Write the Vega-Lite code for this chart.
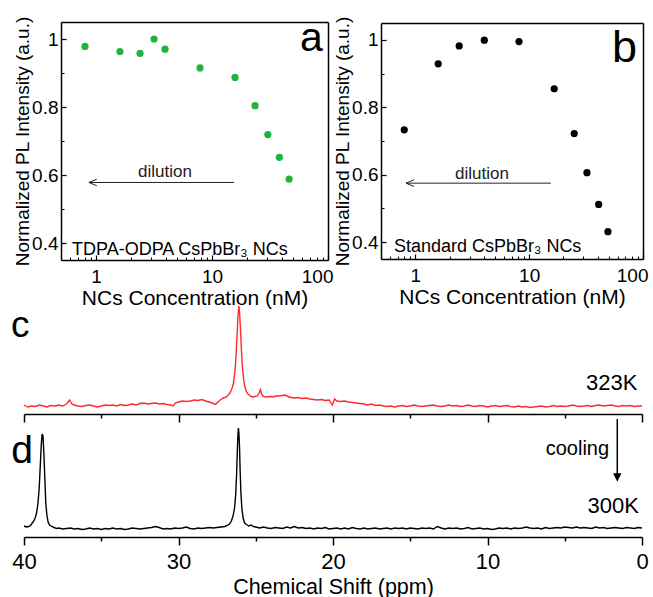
{
"$schema": "https://vega.github.io/schema/vega-lite/v6.json",
"width": 653, "height": 597, "autosize": {"type": "none"}, "padding": 0, "background": "white",
"datasets": {
"ptsA": [{"c":0.805,"v":0.978},{"c":1.61,"v":0.963},{"c":2.40,"v":0.958},{"c":3.17,"v":1.0},{"c":3.94,"v":0.970},{"c":7.89,"v":0.915},{"c":15.8,"v":0.887},{"c":23.5,"v":0.804},{"c":30.3,"v":0.719},{"c":38.1,"v":0.652},{"c":46.2,"v":0.588}],
"ptsB": [{"c":0.80,"v":0.733},{"c":1.59,"v":0.929},{"c":2.43,"v":0.982},{"c":4.04,"v":0.999},{"c":8.15,"v":0.995},{"c":16.6,"v":0.855},{"c":24.9,"v":0.722},{"c":32.2,"v":0.606},{"c":40.8,"v":0.512},{"c":49.2,"v":0.431}],
"arr": [{"p":"a","x1":15.5,"x2":0.87,"y":0.578},{"p":"b","x1":15.5,"x2":0.83,"y":0.575}],
"txt": [
{"id":"la","x":57.4,"y":0.964,"t":"a"},
{"id":"lb","x":53.3,"y":0.933,"t":"b"},
{"id":"sa","x":0.622,"y":0.366,"t":"TDPA-ODPA CsPbBr₃ NCs"},
{"id":"sb","x":0.65,"y":0.372,"t":"Standard CsPbBr₃ NCs"},
{"id":"da","x":3.94,"y":0.595,"t":"dilution"},
{"id":"db","x":3.85,"y":0.587,"t":"dilution"},
{"id":"lc","x":40.84,"y":77,"t":"c"},
{"id":"ld","x":40.82,"y":73.7,"t":"d"},
{"id":"kc","x":0.3,"y":24,"t":"323K"},
{"id":"kd","x":0.2,"y":23.7,"t":"300K"},
{"id":"co","x":2.13,"y":82,"t":"cooling"}],
"cool": [{"x":1.6,"y1":118,"y2":59.5}],
"specC": [
{"p":40,"v":9},{"p":39.75,"v":7},{"p":39.5,"v":8},{"p":39.25,"v":7.5},{"p":39,"v":9},{"p":38.75,"v":8},{"p":38.5,"v":7},{"p":38.25,"v":8.5},{"p":38,"v":8},{"p":37.75,"v":9},{"p":37.5,"v":8},{"p":37.25,"v":10},{"p":37.05,"v":14},{"p":36.9,"v":10},{"p":36.75,"v":9},{"p":36.5,"v":8},{"p":36.25,"v":7.5},{"p":36,"v":8.5},{"p":35.75,"v":9},{"p":35.5,"v":8},{"p":35.25,"v":7},{"p":35,"v":8},{"p":34.75,"v":9},{"p":34.5,"v":8.5},{"p":34.25,"v":9},{"p":34,"v":8},{"p":33.75,"v":9.5},{"p":33.5,"v":8.5},{"p":33.25,"v":9},{"p":33,"v":10},{"p":32.75,"v":9},{"p":32.5,"v":10.5},{"p":32.25,"v":11},{"p":32,"v":10},{"p":31.75,"v":10.5},{"p":31.5,"v":11},{"p":31.25,"v":10},{"p":31,"v":10.5},{"p":30.75,"v":9.5},{"p":30.5,"v":9},{"p":30.35,"v":8},{"p":30.2,"v":11},{"p":30,"v":12},{"p":29.75,"v":13},{"p":29.5,"v":12.5},{"p":29.25,"v":13},{"p":29,"v":14},{"p":28.75,"v":13.5},{"p":28.5,"v":14.5},{"p":28.25,"v":13},{"p":28,"v":12},{"p":27.75,"v":10.5},{"p":27.6,"v":9.5},{"p":27.45,"v":12},{"p":27.3,"v":14},{"p":27.1,"v":16},{"p":26.9,"v":17},{"p":26.7,"v":20.5},{"p":26.55,"v":25},{"p":26.45,"v":30},{"p":26.35,"v":42},{"p":26.28,"v":57},{"p":26.2,"v":82},{"p":26.14,"v":100},{"p":26.09,"v":108},{"p":26.04,"v":100},{"p":25.98,"v":82},{"p":25.92,"v":62},{"p":25.86,"v":46},{"p":25.78,"v":34},{"p":25.7,"v":27},{"p":25.6,"v":22},{"p":25.5,"v":20},{"p":25.35,"v":18},{"p":25.2,"v":17},{"p":25.05,"v":17.5},{"p":24.9,"v":18},{"p":24.78,"v":21},{"p":24.7,"v":24.5},{"p":24.62,"v":20},{"p":24.5,"v":17.5},{"p":24.3,"v":17},{"p":24.1,"v":17.5},{"p":23.9,"v":17},{"p":23.7,"v":18},{"p":23.5,"v":18},{"p":23.3,"v":18.5},{"p":23.1,"v":19},{"p":22.9,"v":17.5},{"p":22.7,"v":16.5},{"p":22.5,"v":16},{"p":22.25,"v":16.5},{"p":22,"v":15.5},{"p":21.75,"v":16},{"p":21.5,"v":15},{"p":21.25,"v":14.5},{"p":21,"v":14},{"p":20.75,"v":14.5},{"p":20.5,"v":13.5},{"p":20.25,"v":14},{"p":20.05,"v":9},{"p":19.9,"v":15},{"p":19.75,"v":13},{"p":19.5,"v":12.5},{"p":19.25,"v":13},{"p":19,"v":12},{"p":18.75,"v":11.5},{"p":18.5,"v":11},{"p":18.25,"v":10.5},{"p":18,"v":10},{"p":17.75,"v":9},{"p":17.5,"v":10},{"p":17.25,"v":8.5},{"p":17,"v":9},{"p":16.75,"v":8},{"p":16.5,"v":7.5},{"p":16.25,"v":8},{"p":16,"v":7},{"p":15.75,"v":8},{"p":15.5,"v":8.5},{"p":15.25,"v":7.5},{"p":15,"v":8},{"p":14.75,"v":9},{"p":14.5,"v":8},{"p":14.25,"v":7.5},{"p":14,"v":8},{"p":13.75,"v":8.5},{"p":13.5,"v":9},{"p":13.25,"v":8},{"p":13,"v":7.5},{"p":12.75,"v":8},{"p":12.5,"v":9},{"p":12.25,"v":8},{"p":12,"v":8.5},{"p":11.75,"v":7.5},{"p":11.5,"v":8},{"p":11.25,"v":9},{"p":11,"v":8},{"p":10.75,"v":7.5},{"p":10.5,"v":8.5},{"p":10.25,"v":8},{"p":10,"v":7},{"p":9.75,"v":8},{"p":9.5,"v":8.5},{"p":9.25,"v":7.5},{"p":9,"v":8},{"p":8.75,"v":8.5},{"p":8.5,"v":7.5},{"p":8.25,"v":7},{"p":8,"v":8},{"p":7.75,"v":7},{"p":7.5,"v":7.5},{"p":7.25,"v":6.5},{"p":7,"v":7},{"p":6.75,"v":7.5},{"p":6.5,"v":8},{"p":6.25,"v":7},{"p":6,"v":7.5},{"p":5.75,"v":8.5},{"p":5.5,"v":7.5},{"p":5.25,"v":8},{"p":5,"v":7.5},{"p":4.75,"v":8},{"p":4.5,"v":9},{"p":4.25,"v":8},{"p":4,"v":7.5},{"p":3.75,"v":8},{"p":3.5,"v":8.5},{"p":3.25,"v":7.5},{"p":3,"v":8.5},{"p":2.75,"v":9},{"p":2.5,"v":8},{"p":2.25,"v":8.5},{"p":2,"v":9},{"p":1.75,"v":8},{"p":1.5,"v":7.5},{"p":1.25,"v":8.5},{"p":1,"v":8},{"p":0.75,"v":8.5},{"p":0.5,"v":7.5},{"p":0.25,"v":8},{"p":0,"v":8}],
"specD": [
{"p":40,"v":11},{"p":39.85,"v":10},{"p":39.7,"v":10.5},{"p":39.55,"v":12},{"p":39.42,"v":15},{"p":39.3,"v":18},{"p":39.2,"v":23},{"p":39.1,"v":33},{"p":39.02,"v":48},{"p":38.95,"v":70},{"p":38.89,"v":90},{"p":38.83,"v":103},{"p":38.77,"v":101},{"p":38.71,"v":82},{"p":38.65,"v":58},{"p":38.59,"v":34},{"p":38.52,"v":22},{"p":38.44,"v":15},{"p":38.35,"v":12},{"p":38.2,"v":10.5},{"p":38.05,"v":9.5},{"p":37.9,"v":8.5},{"p":37.75,"v":9},{"p":37.5,"v":8},{"p":37.25,"v":8.5},{"p":37,"v":9},{"p":36.75,"v":8},{"p":36.5,"v":8.5},{"p":36.25,"v":7.5},{"p":36,"v":8},{"p":35.75,"v":9},{"p":35.5,"v":8},{"p":35.25,"v":8.5},{"p":35,"v":7.5},{"p":34.75,"v":8.5},{"p":34.5,"v":8},{"p":34.25,"v":9},{"p":34,"v":8},{"p":33.75,"v":8.5},{"p":33.5,"v":7.5},{"p":33.25,"v":8},{"p":33,"v":9},{"p":32.75,"v":8.5},{"p":32.5,"v":8},{"p":32.25,"v":8.5},{"p":32,"v":9},{"p":31.75,"v":9.5},{"p":31.5,"v":10.5},{"p":31.25,"v":9.5},{"p":31,"v":8},{"p":30.75,"v":8.5},{"p":30.5,"v":8},{"p":30.25,"v":9},{"p":30,"v":8.5},{"p":29.75,"v":9},{"p":29.5,"v":10},{"p":29.25,"v":8.5},{"p":29,"v":8},{"p":28.75,"v":9},{"p":28.5,"v":8.5},{"p":28.25,"v":9},{"p":28,"v":9.5},{"p":27.75,"v":9},{"p":27.5,"v":9.5},{"p":27.25,"v":10},{"p":27,"v":10.5},{"p":26.85,"v":11.5},{"p":26.7,"v":13},{"p":26.58,"v":16},{"p":26.47,"v":21},{"p":26.38,"v":28},{"p":26.3,"v":42},{"p":26.24,"v":62},{"p":26.19,"v":88},{"p":26.15,"v":103},{"p":26.12,"v":109},{"p":26.09,"v":104},{"p":26.05,"v":90},{"p":26.01,"v":66},{"p":25.96,"v":44},{"p":25.9,"v":29},{"p":25.82,"v":19},{"p":25.72,"v":14},{"p":25.6,"v":12.5},{"p":25.45,"v":11},{"p":25.3,"v":12},{"p":25.15,"v":10.5},{"p":25,"v":10},{"p":24.75,"v":9},{"p":24.5,"v":10},{"p":24.25,"v":9},{"p":24,"v":8.5},{"p":23.75,"v":9.5},{"p":23.5,"v":9},{"p":23.25,"v":8.5},{"p":23,"v":10},{"p":22.75,"v":9},{"p":22.5,"v":10.5},{"p":22.25,"v":9},{"p":22,"v":9.5},{"p":21.75,"v":8.5},{"p":21.5,"v":9},{"p":21.25,"v":8},{"p":21,"v":9},{"p":20.75,"v":8.5},{"p":20.5,"v":9.5},{"p":20.25,"v":8},{"p":20,"v":8.5},{"p":19.75,"v":9},{"p":19.5,"v":8},{"p":19.25,"v":9},{"p":19,"v":8},{"p":18.75,"v":9.5},{"p":18.5,"v":8.5},{"p":18.25,"v":8},{"p":18,"v":9},{"p":17.75,"v":8},{"p":17.5,"v":8.5},{"p":17.25,"v":9},{"p":17,"v":8},{"p":16.75,"v":8.5},{"p":16.5,"v":9},{"p":16.25,"v":8},{"p":16,"v":9},{"p":15.75,"v":8.5},{"p":15.5,"v":9},{"p":15.25,"v":8},{"p":15,"v":9},{"p":14.75,"v":8.5},{"p":14.5,"v":8},{"p":14.25,"v":9},{"p":14,"v":8.5},{"p":13.75,"v":9},{"p":13.5,"v":8},{"p":13.25,"v":10.5},{"p":13,"v":9},{"p":12.75,"v":8},{"p":12.5,"v":9},{"p":12.25,"v":8.5},{"p":12,"v":9},{"p":11.75,"v":8},{"p":11.5,"v":8.5},{"p":11.25,"v":9.5},{"p":11,"v":8},{"p":10.75,"v":8.5},{"p":10.5,"v":9},{"p":10.25,"v":8},{"p":10,"v":8.5},{"p":9.75,"v":7.5},{"p":9.5,"v":8},{"p":9.25,"v":9},{"p":9,"v":8.5},{"p":8.75,"v":9},{"p":8.5,"v":8},{"p":8.25,"v":9},{"p":8,"v":8.5},{"p":7.75,"v":9},{"p":7.5,"v":10},{"p":7.25,"v":9},{"p":7,"v":8.5},{"p":6.75,"v":9},{"p":6.5,"v":8},{"p":6.25,"v":9.5},{"p":6,"v":8.5},{"p":5.75,"v":9},{"p":5.5,"v":9.5},{"p":5.25,"v":9},{"p":5,"v":10},{"p":4.75,"v":9.5},{"p":4.5,"v":9},{"p":4.25,"v":10},{"p":4,"v":9},{"p":3.75,"v":9.5},{"p":3.5,"v":9},{"p":3.25,"v":8.5},{"p":3,"v":10},{"p":2.75,"v":9},{"p":2.5,"v":9.5},{"p":2.25,"v":8.5},{"p":2,"v":9},{"p":1.75,"v":9.5},{"p":1.5,"v":9},{"p":1.25,"v":8.5},{"p":1,"v":9.5},{"p":0.75,"v":9},{"p":0.5,"v":8.5},{"p":0.25,"v":9.5},{"p":0,"v":9}]
},
"layer": [
{"data":{"name":"ptsA"},"mark":{"type":"circle","size":52,"color":"#21b33b","opacity":1},
 "encoding":{
 "x":{"field":"c","type":"quantitative","scale":{"type":"log","domain":[0.5,100],"range":[61,328],"nice":false},
  "axis":{"orient":"bottom","offset":-337,"values":[1,10,100],"format":"~g","tickSize":-5,"tickWidth":1.2,"domainWidth":1.5,"labelFontSize":19,"labelPadding":12,"labelFlush":true,"labelFlushOffset":5,"title":"NCs Concentration (nM)","titleFontSize":21,"titlePadding":1}},
 "y":{"field":"v","type":"quantitative","scale":{"domain":[0.35,1.05],"range":[260,22],"nice":false,"zero":false},
  "axis":{"orient":"left","offset":-61,"values":[0.4,0.6,0.8,1],"format":"~g","tickSize":-5,"tickWidth":1.2,"domainWidth":1.5,"labelFontSize":19,"labelPadding":8,"title":"Normalized PL Intensity (a.u.)","titleFontSize":19,"titlePadding":-1}}}},
{"data":{"name":"arr"},"transform":[{"filter":"datum.p == 'a'"}],"mark":{"type":"rule","color":"#222","strokeWidth":1},
 "encoding":{
 "x":{"field":"x1","type":"quantitative","scale":{"type":"log","domain":[0.5,100],"range":[61,328],"nice":false},
  "axis":{"orient":"bottom","offset":-337,"values":[0.6,0.7,0.8,0.9,2,3,4,5,6,7,8,9,20,30,40,50,60,70,80,90],"tickSize":-3,"tickWidth":1,"domain":false,"labels":false,"title":null}},
 "x2":{"field":"x2"},
 "y":{"field":"y","type":"quantitative","scale":{"domain":[0.35,1.05],"range":[260,22],"nice":false,"zero":false},
  "axis":{"orient":"left","offset":-61,"values":[0.5,0.7,0.9],"tickSize":-3,"tickWidth":1,"domain":false,"labels":false,"title":null}}}},
{"data":{"name":"arr"},"transform":[{"filter":"datum.p == 'a'"}],"mark":{"type":"point","shape":"M2.4,-1L0,0L2.4,1","size":44,"filled":false,"color":"#222","strokeWidth":1,"opacity":1},
 "encoding":{
 "x":{"field":"x2","type":"quantitative","scale":{"type":"log","domain":[0.5,100],"range":[61,328],"nice":false},
  "axis":{"orient":"top","offset":-22,"ticks":false,"labels":false,"domainWidth":1.5,"title":null}},
 "y":{"field":"y","type":"quantitative","scale":{"domain":[0.35,1.05],"range":[260,22],"nice":false,"zero":false},
  "axis":{"orient":"right","offset":-325,"ticks":false,"labels":false,"domainWidth":1.5,"title":null}}}},
{"data":{"name":"txt"},"transform":[{"filter":"datum.id == 'la'"}],"mark":{"type":"text","fontSize":41,"align":"left","baseline":"alphabetic","color":"#000"},
 "encoding":{"text":{"field":"t"},
 "x":{"field":"x","type":"quantitative","scale":{"type":"log","domain":[0.5,100],"range":[61,328],"nice":false},"axis":null},
 "y":{"field":"y","type":"quantitative","scale":{"domain":[0.35,1.05],"range":[260,22],"nice":false,"zero":false},"axis":null}}},
{"data":{"name":"txt"},"transform":[{"filter":"datum.id == 'sa'"}],"mark":{"type":"text","fontSize":18,"align":"left","baseline":"alphabetic","color":"#000"},
 "encoding":{"text":{"field":"t"},
 "x":{"field":"x","type":"quantitative","scale":{"type":"log","domain":[0.5,100],"range":[61,328],"nice":false},"axis":null},
 "y":{"field":"y","type":"quantitative","scale":{"domain":[0.35,1.05],"range":[260,22],"nice":false,"zero":false},"axis":null}}},
{"data":{"name":"txt"},"transform":[{"filter":"datum.id == 'da'"}],"mark":{"type":"text","fontSize":17,"align":"center","baseline":"alphabetic","color":"#222"},
 "encoding":{"text":{"field":"t"},
 "x":{"field":"x","type":"quantitative","scale":{"type":"log","domain":[0.5,100],"range":[61,328],"nice":false},"axis":null},
 "y":{"field":"y","type":"quantitative","scale":{"domain":[0.35,1.05],"range":[260,22],"nice":false,"zero":false},"axis":null}}},

{"data":{"name":"ptsB"},"mark":{"type":"circle","size":52,"color":"#000","opacity":1},
 "encoding":{
 "x":{"field":"c","type":"quantitative","scale":{"type":"log","domain":[0.5,100],"range":[381,643],"nice":false},
  "axis":{"orient":"bottom","offset":-338,"values":[1,10,100],"format":"~g","tickSize":-5,"tickWidth":1.2,"domainWidth":1.5,"labelFontSize":19,"labelPadding":12,"labelFlush":true,"labelFlushOffset":5,"title":"NCs Concentration (nM)","titleFontSize":21,"titlePadding":1}},
 "y":{"field":"v","type":"quantitative","scale":{"domain":[0.35,1.05],"range":[259,23],"nice":false,"zero":false},
  "axis":{"orient":"left","offset":-381,"values":[0.4,0.6,0.8,1],"format":"~g","tickSize":-5,"tickWidth":1.2,"domainWidth":1.5,"labelFontSize":19,"labelPadding":8,"title":"Normalized PL Intensity (a.u.)","titleFontSize":19,"titlePadding":-1}}}},
{"data":{"name":"arr"},"transform":[{"filter":"datum.p == 'b'"}],"mark":{"type":"rule","color":"#222","strokeWidth":1},
 "encoding":{
 "x":{"field":"x1","type":"quantitative","scale":{"type":"log","domain":[0.5,100],"range":[381,643],"nice":false},
  "axis":{"orient":"bottom","offset":-338,"values":[0.6,0.7,0.8,0.9,2,3,4,5,6,7,8,9,20,30,40,50,60,70,80,90],"tickSize":-3,"tickWidth":1,"domain":false,"labels":false,"title":null}},
 "x2":{"field":"x2"},
 "y":{"field":"y","type":"quantitative","scale":{"domain":[0.35,1.05],"range":[259,23],"nice":false,"zero":false},
  "axis":{"orient":"left","offset":-381,"values":[0.5,0.7,0.9],"tickSize":-3,"tickWidth":1,"domain":false,"labels":false,"title":null}}}},
{"data":{"name":"arr"},"transform":[{"filter":"datum.p == 'b'"}],"mark":{"type":"point","shape":"M2.4,-1L0,0L2.4,1","size":44,"filled":false,"color":"#222","strokeWidth":1,"opacity":1},
 "encoding":{
 "x":{"field":"x2","type":"quantitative","scale":{"type":"log","domain":[0.5,100],"range":[381,643],"nice":false},
  "axis":{"orient":"top","offset":-23,"ticks":false,"labels":false,"domainWidth":1.5,"title":null}},
 "y":{"field":"y","type":"quantitative","scale":{"domain":[0.35,1.05],"range":[259,23],"nice":false,"zero":false},
  "axis":{"orient":"right","offset":-10,"ticks":false,"labels":false,"domainWidth":1.5,"title":null}}}},
{"data":{"name":"txt"},"transform":[{"filter":"datum.id == 'lb'"}],"mark":{"type":"text","fontSize":45,"align":"left","baseline":"alphabetic","color":"#000"},
 "encoding":{"text":{"field":"t"},
 "x":{"field":"x","type":"quantitative","scale":{"type":"log","domain":[0.5,100],"range":[381,643],"nice":false},"axis":null},
 "y":{"field":"y","type":"quantitative","scale":{"domain":[0.35,1.05],"range":[259,23],"nice":false,"zero":false},"axis":null}}},
{"data":{"name":"txt"},"transform":[{"filter":"datum.id == 'sb'"}],"mark":{"type":"text","fontSize":18,"align":"left","baseline":"alphabetic","color":"#000"},
 "encoding":{"text":{"field":"t"},
 "x":{"field":"x","type":"quantitative","scale":{"type":"log","domain":[0.5,100],"range":[381,643],"nice":false},"axis":null},
 "y":{"field":"y","type":"quantitative","scale":{"domain":[0.35,1.05],"range":[259,23],"nice":false,"zero":false},"axis":null}}},
{"data":{"name":"txt"},"transform":[{"filter":"datum.id == 'db'"}],"mark":{"type":"text","fontSize":17,"align":"center","baseline":"alphabetic","color":"#222"},
 "encoding":{"text":{"field":"t"},
 "x":{"field":"x","type":"quantitative","scale":{"type":"log","domain":[0.5,100],"range":[381,643],"nice":false},"axis":null},
 "y":{"field":"y","type":"quantitative","scale":{"domain":[0.35,1.05],"range":[259,23],"nice":false,"zero":false},"axis":null}}},

{"data":{"name":"specC"},"mark":{"type":"line","color":"#ff2a2a","strokeWidth":1.4},
 "encoding":{
 "x":{"field":"p","type":"quantitative","scale":{"domain":[0,40],"range":[642,24],"nice":false,"zero":false},
  "axis":{"orient":"bottom","offset":-183,"values":[40,30,20,10,0],"tickSize":8,"tickWidth":1.5,"domainWidth":1.5,"labels":false,"title":null}},
 "y":{"field":"v","type":"quantitative","scale":{"domain":[0,114],"range":[414,300],"nice":false},"axis":null}}},
{"data":{"name":"txt"},"transform":[{"filter":"datum.id == 'kc'"}],"mark":{"type":"text","fontSize":22,"align":"right","baseline":"alphabetic","color":"#000"},
 "encoding":{"text":{"field":"t"},
 "x":{"field":"x","type":"quantitative","scale":{"domain":[0,40],"range":[642,24],"nice":false,"zero":false},
  "axis":{"orient":"bottom","offset":-183,"values":[35,25,15,5],"tickSize":4,"tickWidth":1.5,"domain":false,"labels":false,"title":null}},
 "y":{"field":"y","type":"quantitative","scale":{"domain":[0,114],"range":[414,300],"nice":false},"axis":null}}},
{"data":{"name":"txt"},"transform":[{"filter":"datum.id == 'lc'"}],"mark":{"type":"text","fontSize":37,"align":"left","baseline":"alphabetic","color":"#000"},
 "encoding":{"text":{"field":"t"},
 "x":{"field":"x","type":"quantitative","scale":{"domain":[0,40],"range":[642,24],"nice":false,"zero":false},"axis":null},
 "y":{"field":"y","type":"quantitative","scale":{"domain":[0,114],"range":[414,300],"nice":false},"axis":null}}},

{"data":{"name":"specD"},"mark":{"type":"line","color":"#000","strokeWidth":1.4},
 "encoding":{
 "x":{"field":"p","type":"quantitative","scale":{"domain":[0,40],"range":[642,24],"nice":false,"zero":false},
  "axis":{"orient":"bottom","offset":-60,"values":[40,30,20,10,0],"tickSize":8,"tickWidth":1.5,"domainWidth":1.5,"labelFontSize":22,"labelPadding":6,"labelFlush":false,"title":"Chemical Shift (ppm)","titleFontSize":21.5,"titlePadding":4}},
 "y":{"field":"v","type":"quantitative","scale":{"domain":[0,114],"range":[537,423],"nice":false},"axis":null}}},
{"data":{"name":"txt"},"transform":[{"filter":"datum.id == 'kd'"}],"mark":{"type":"text","fontSize":22,"align":"right","baseline":"alphabetic","color":"#000"},
 "encoding":{"text":{"field":"t"},
 "x":{"field":"x","type":"quantitative","scale":{"domain":[0,40],"range":[642,24],"nice":false,"zero":false},
  "axis":{"orient":"bottom","offset":-60,"values":[35,25,15,5],"tickSize":4,"tickWidth":1.5,"domain":false,"labels":false,"title":null}},
 "y":{"field":"y","type":"quantitative","scale":{"domain":[0,114],"range":[537,423],"nice":false},"axis":null}}},
{"data":{"name":"txt"},"transform":[{"filter":"datum.id == 'ld'"}],"mark":{"type":"text","fontSize":39,"align":"left","baseline":"alphabetic","color":"#000"},
 "encoding":{"text":{"field":"t"},
 "x":{"field":"x","type":"quantitative","scale":{"domain":[0,40],"range":[642,24],"nice":false,"zero":false},"axis":null},
 "y":{"field":"y","type":"quantitative","scale":{"domain":[0,114],"range":[537,423],"nice":false},"axis":null}}},
{"data":{"name":"txt"},"transform":[{"filter":"datum.id == 'co'"}],"mark":{"type":"text","fontSize":20,"align":"right","baseline":"alphabetic","color":"#000"},
 "encoding":{"text":{"field":"t"},
 "x":{"field":"x","type":"quantitative","scale":{"domain":[0,40],"range":[642,24],"nice":false,"zero":false},"axis":null},
 "y":{"field":"y","type":"quantitative","scale":{"domain":[0,114],"range":[537,423],"nice":false},"axis":null}}},
{"data":{"name":"cool"},"mark":{"type":"rule","color":"#000","strokeWidth":1.5},
 "encoding":{
 "x":{"field":"x","type":"quantitative","scale":{"domain":[0,40],"range":[642,24],"nice":false,"zero":false},"axis":null},
 "y":{"field":"y1","type":"quantitative","scale":{"domain":[0,114],"range":[537,423],"nice":false},"axis":null},
 "y2":{"field":"y2"}}},
{"data":{"name":"cool"},"mark":{"type":"point","shape":"M-1,-1L1,-1L0,1Z","size":70,"filled":true,"color":"#000","opacity":1},
 "encoding":{
 "x":{"field":"x","type":"quantitative","scale":{"domain":[0,40],"range":[642,24],"nice":false,"zero":false},"axis":null},
 "y":{"field":"y2","type":"quantitative","scale":{"domain":[0,114],"range":[537,423],"nice":false},"axis":null}}}
],
"resolve": {"scale": {"x": "independent", "y": "independent"}, "axis": {"x": "independent", "y": "independent"}},
"config": {"view": {"stroke": null}, "font": "Liberation Sans",
 "axis": {"grid": false, "domainColor": "#000", "tickColor": "#000", "labelColor": "#000", "titleColor": "#000", "titleFontWeight": "normal", "labelFont": "Liberation Sans", "titleFont": "Liberation Sans", "labelOverlap": false},
 "text": {"font": "Liberation Sans"}}
}
